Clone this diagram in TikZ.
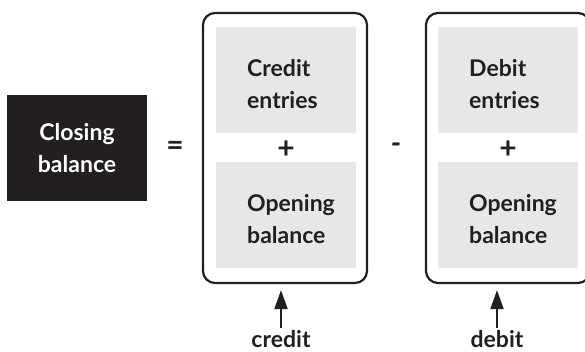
\documentclass[tikz,border=0pt]{standalone}
\usepackage{fontspec}
\setmainfont{Lato}
\usetikzlibrary{arrows.meta, positioning}

\definecolor{inkblack}{HTML}{231F20}
\definecolor{panelgray}{HTML}{E6E7E8}

\tikzset{
	termfont/.style={font=\bfseries\fontsize{23}{32}\selectfont},
	sumbox/.style={draw=inkblack, line width=2.2pt, rounded corners=12pt, minimum width=164pt, minimum height=270pt},
	panel/.style={fill=panelgray, minimum width=140pt, minimum height=106pt},
	panellbl/.style={termfont, text=inkblack, align=left, inner sep=0pt, anchor=west},
	opsign/.style={font=\bfseries\fontsize{30}{32}\selectfont, text=inkblack, inner sep=0pt},
	pointer/.style={-{Triangle[length=19pt,width=13pt]}, line width=2pt, draw=inkblack, shorten >=6pt}
}

\begin{document}
\begin{tikzpicture}[x=1pt, y=-1pt]
	
	\useasboundingbox (0,0) rectangle (585,352);
	
	% left side
	\node[fill=inkblack, minimum width=140pt, minimum height=106pt] (closing) at (77,148) {};
	\node[termfont, text=white, align=center] (closinglbl) at (closing.center) {Closing\\balance};
	
	\node[opsign] (equals) at (175,148) {=};
	
	% credit side
	\node[sumbox] (creditbox) at (285,148) {};
	\node[panel] (creditup) at (286,80) {};
	\node[panel] (creditdown) at (286,215) {};
	\node[panellbl] (creditent) at (247,84) {Credit\\entries};
	\node[panellbl] (creditopen) at (247,219) {Opening\\balance};
	\node[opsign] (creditplus) at (286,150) {+};
	
	\node[opsign, font=\bfseries\itshape\fontsize{30}{32}\selectfont] (minus) at (396,148) {-};
	
	% debit side
	\node[sumbox] (debitbox) at (508,148) {};
	\node[panel] (debitup) at (508,80) {};
	\node[panel] (debitdown) at (508,215) {};
	\node[panellbl] (debitent) at (469,84) {Debit\\entries};
	\node[panellbl] (debitopen) at (469,219) {Opening\\balance};
	\node[opsign] (debitplus) at (508,150) {+};
	
	% pointers
	\node[termfont, text=inkblack, anchor=base, inner sep=0pt] (creditlbl) at (281,347) {credit};
	\node[termfont, text=inkblack, anchor=base, inner sep=0pt] (debitlbl) at (497,347) {debit};
	
	\draw[pointer] ([yshift=2pt]creditlbl.north) -- (creditlbl.north |- creditbox.south);
	\draw[pointer] ([yshift=2pt]debitlbl.north) -- (debitlbl.north |- debitbox.south);
	
\end{tikzpicture}
\end{document}
